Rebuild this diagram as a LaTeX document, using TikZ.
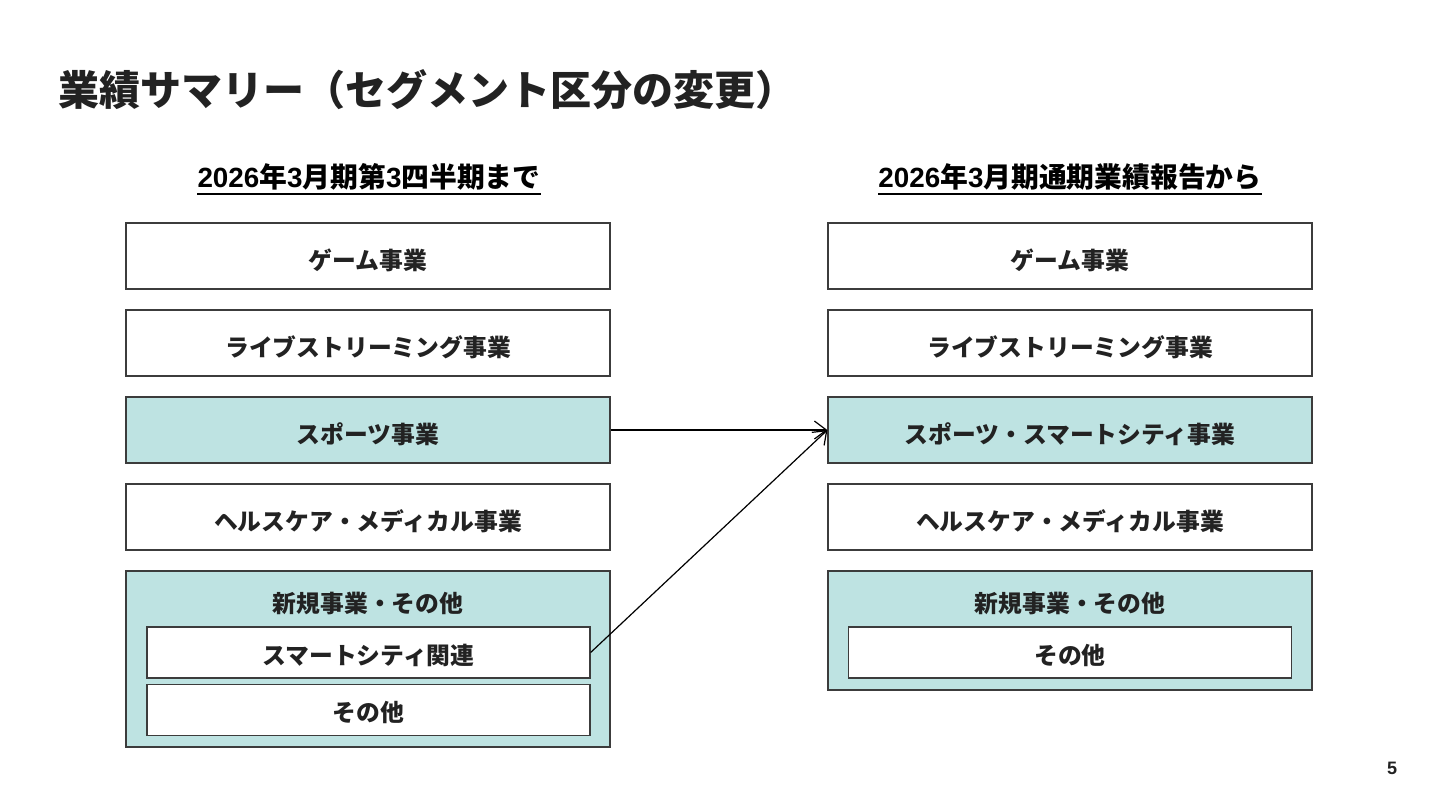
\documentclass[tikz,border=0pt]{standalone}
\usepackage{fontspec}
\setmainfont{Noto Sans CJK JP}
\newfontfamily\latinfont{Liberation Sans}
\usetikzlibrary{arrows.meta}
\definecolor{segteal}{RGB}{190,227,226}
\definecolor{segline}{RGB}{60,60,60}
\definecolor{segtext}{RGB}{34,34,34}
\tikzset{>={Straight Barb[length=6pt,width=9pt]}}
\tikzset{
  segbox/.style={draw=segline, line width=0.6pt, fill=white, minimum width=242pt,
    minimum height=33pt, inner sep=0pt, text height=15.3pt, text depth=1.4pt,
    font=\fontsize{11.9}{14}\selectfont\bfseries, text=segtext},
  subbox/.style={segbox, minimum width=221.5pt, minimum height=25.5pt, text height=13pt},
  headtxt/.style={inner sep=0pt, font=\fontsize{13.9}{16}\selectfont\bfseries, text=black},
  grouptxt/.style={inner sep=0pt, font=\fontsize{11.9}{14}\selectfont\bfseries, text=segtext},
}

\begin{document}
\begin{tikzpicture}[x=0.5pt, y=0.5pt]

% Zone de dessin : 1440 x 810 (unités = pixels de l'image, y vers le bas)
% Drawing area: 1440 x 810 (units = image pixels, y pointing down)
\fill[white] (0,0) rectangle (1440,-810);
\useasboundingbox (0,0) rectangle (1440,-810);

% Titre / Title
\node[anchor=west, inner sep=0pt, font=\fontsize{20.5}{24}\selectfont\bfseries, text=segtext] (title) at (58,-90) {業績サマリー（セグメント区分の変更）};

% En-têtes des colonnes / Column headers
\node[headtxt] (headleft) at (369,-177) {{\latinfont 2026}年{\latinfont 3}月期第{\latinfont 3}四半期まで};
\node[headtxt] (headright) at (1070,-177) {{\latinfont 2026}年{\latinfont 3}月期通期業績報告から};
\draw[line width=0.9pt] ([yshift=-3.2pt]headleft.base west) -- ([yshift=-3.2pt]headleft.base east);
\draw[line width=0.9pt] ([yshift=-3.2pt]headright.base west) -- ([yshift=-3.2pt]headright.base east);

% Colonne de gauche / Left column
\node[segbox] (gameleft) at (368,-256) {ゲーム事業};
\node[segbox] (liveleft) at (368,-343) {ライブストリーミング事業};
\node[segbox, fill=segteal] (sportsleft) at (368,-430) {スポーツ事業};
\node[segbox] (healthleft) at (368,-517) {ヘルスケア・メディカル事業};
\node[segbox, fill=segteal, minimum height=88pt] (newleft) at (368,-659) {};
\node[grouptxt] (newlefttxt) at (368,-603) {新規事業・その他};
\node[subbox] (smartleft) at (368.5,-652.5) {スマートシティ関連};
\node[subbox] (otherleft) at (368.5,-710) {その他};

% Colonne de droite / Right column
\node[segbox] (gameright) at (1070,-256) {ゲーム事業};
\node[segbox] (liveright) at (1070,-343) {ライブストリーミング事業};
\node[segbox, fill=segteal] (sportsright) at (1070,-430) {スポーツ・スマートシティ事業};
\node[segbox] (healthright) at (1070,-517) {ヘルスケア・メディカル事業};
\node[segbox, fill=segteal, minimum height=59.5pt] (newright) at (1070,-630.5) {};
\node[grouptxt] (newrighttxt) at (1070,-603) {新規事業・その他};
\node[subbox] (otherright) at (1070,-652.5) {その他};

% Flèches / Arrows
\draw[->, line width=0.6pt, black] (sportsleft.east) -- (sportsright.west);
\draw[->, line width=0.6pt, black] (smartleft.east) -- (sportsright.west);

% Numéro de page / Page number
\node[inner sep=0pt, font=\latinfont\fontsize{9}{11}\selectfont\bfseries, text=segtext] (pagenum) at (1392,-768) {5};

\end{tikzpicture}
\end{document}
